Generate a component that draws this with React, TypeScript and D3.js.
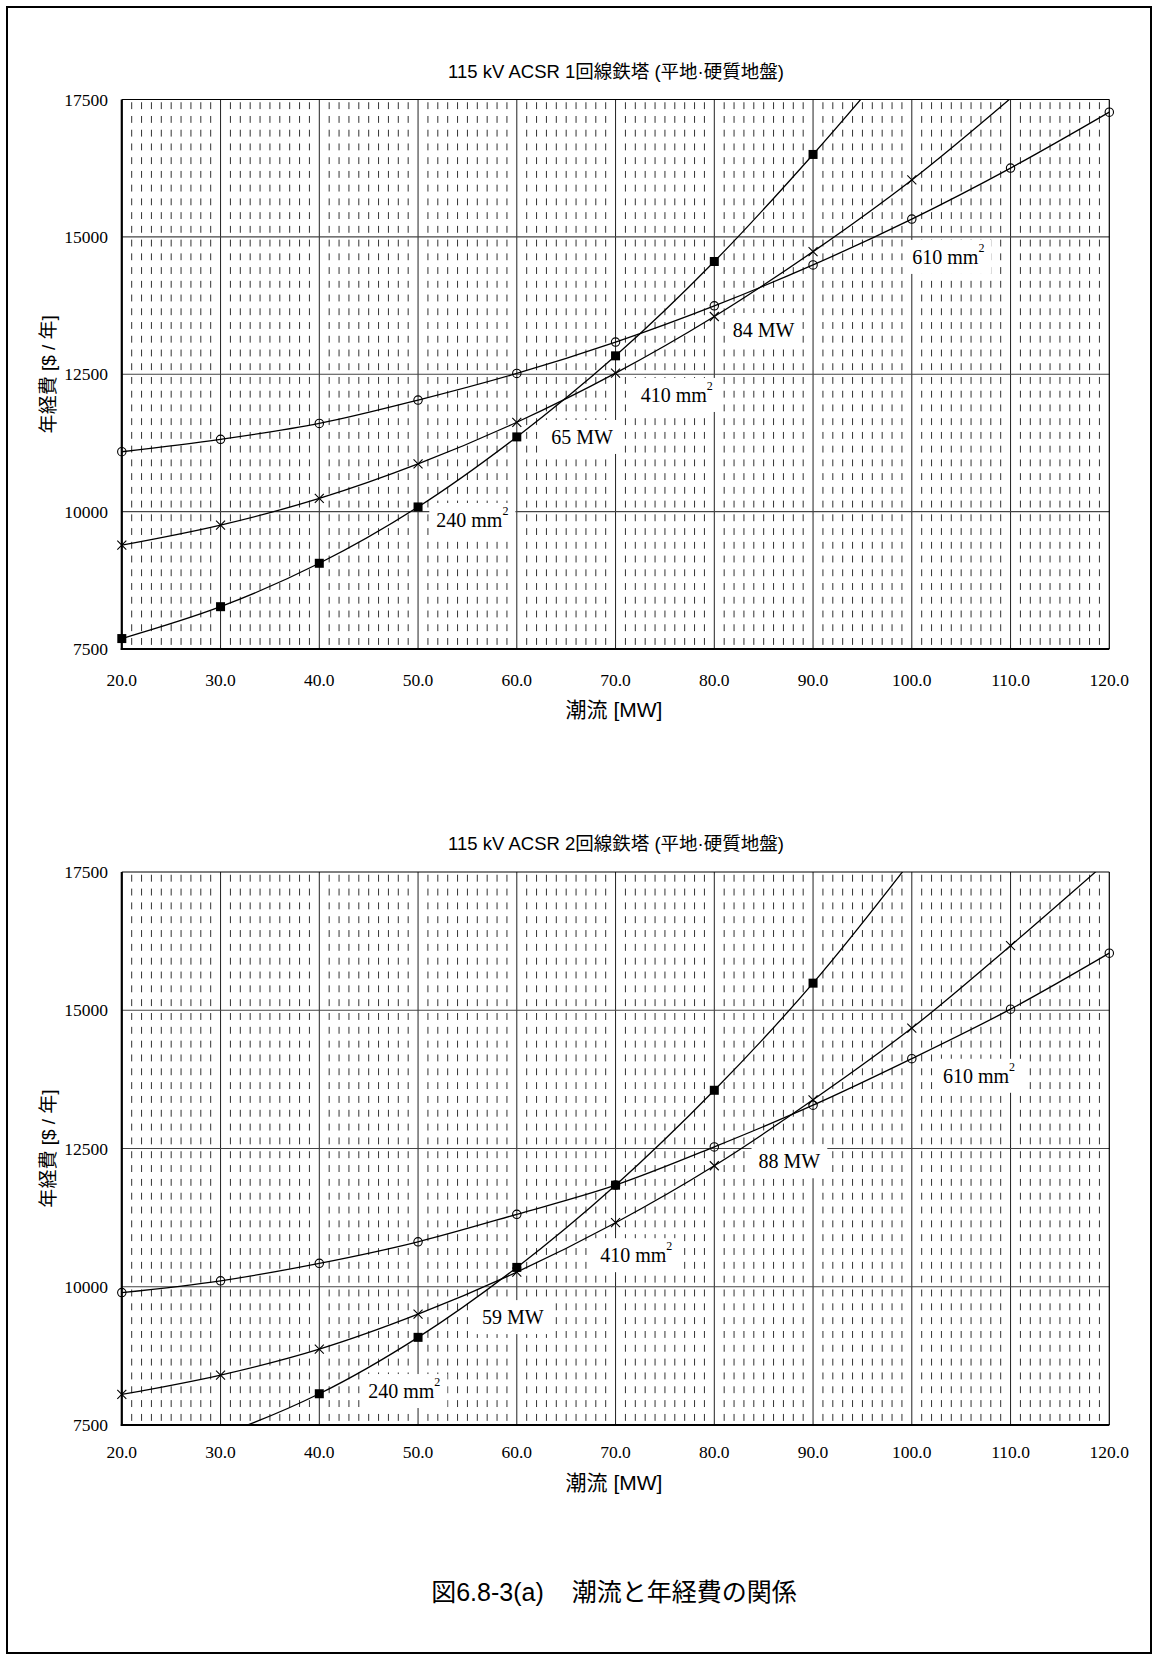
import React, { useEffect, useRef } from 'react';
import * as d3 from 'd3';

// x categories (MW) and y tick values
const flows = [20, 30, 40, 50, 60, 70, 80, 90, 100, 110, 120];
const costTicks = [7500, 10000, 12500, 15000, 17500];

// 1回線鉄塔
const single240 = [7690, 8270, 9060, 10085, 11360, 12835, 14552, 16500, 18600, null, null];
const single410 = [9390, 9755, 10240, 10868, 11626, 12520, 13551, 14732, 16036, 17520, 19100];
const single610 = [11090, 11315, 11605, 12030, 12515, 13085, 13745, 14490, 15324, 16252, 17270];

// 2回線鉄塔
const double240 = [6800, 7320, 8065, 9085, 10350, 11837, 13553, 15490, 17720, null, null];
const double410 = [8052, 8403, 8873, 9505, 10265, 11158, 12188, 13380, 14677, 16168, 17720];
const double610 = [9894, 10108, 10423, 10813, 11310, 11838, 12529, 13283, 14125, 15020, 16032];

// annotation anchors (MW, cost)
const singleNotes = [
  { text: '610 mm', sup: '2', mw: 103.7, cost: 14635 },
  { text: '84 MW', sup: '', mw: 85.0, cost: 13306 },
  { text: '410 mm', sup: '2', mw: 76.2, cost: 12123 },
  { text: '65 MW', sup: '', mw: 66.6, cost: 11359 },
  { text: '240 mm', sup: '2', mw: 55.5, cost: 9848 },
];
const doubleNotes = [
  { text: '610 mm', sup: '2', mw: 106.8, cost: 13815 },
  { text: '88 MW', sup: '', mw: 87.6, cost: 12269 },
  { text: '410 mm', sup: '2', mw: 72.1, cost: 10571 },
  { text: '59 MW', sup: '', mw: 59.6, cost: 9451 },
  { text: '240 mm', sup: '2', mw: 48.6, cost: 8114 },
];

const SANS = '"Liberation Sans", Arial, "Noto Sans CJK JP", sans-serif';
const SERIF = '"Liberation Serif", "Times New Roman", serif';

const panels = [
  {
    id: 'p1',
    title: '115 kV ACSR 1回線鉄塔 (平地·硬質地盤)',
    top: 99.5, bottom: 649, titleY: 71, tickY: 680, labelY: 709,
    s240: single240, s410: single410, s610: single610, notes: singleNotes,
  },
  {
    id: 'p2',
    title: '115 kV ACSR 2回線鉄塔 (平地·硬質地盤)',
    top: 872, bottom: 1425, titleY: 843, tickY: 1452, labelY: 1482,
    s240: double240, s410: double410, s610: double610, notes: doubleNotes,
  },
];

const App = () => {
  const svgRef = useRef<SVGSVGElement>(null);

  useEffect(() => {
    const svg = d3.select(svgRef.current);
    svg.selectAll('*').remove();

    svg.append('rect')
      .attr('x', 7).attr('y', 7).attr('width', 1144).attr('height', 1646)
      .attr('fill', 'white').attr('stroke', '#000').attr('stroke-width', 2);

    const left = 121.8;
    const right = 1109.3;

    panels.forEach(p => {
      const x = d3.scaleLinear().domain([20, 120]).range([left, right]);
      const y = d3.scaleLinear().domain([7500, 17500]).range([p.bottom, p.top]);
      const g = svg.append('g');

      g.append('defs').append('clipPath').attr('id', `clip-${p.id}`)
        .append('rect')
        .attr('x', left).attr('y', p.top)
        .attr('width', right - left).attr('height', p.bottom - p.top);

      // minor dashed verticals
      const period = (p.bottom - p.top) / 40;
      const minors = d3.range(21, 120).filter(v => v % 10 !== 0);
      g.append('g').selectAll('line').data(minors).enter().append('line')
        .attr('x1', d => x(d)).attr('x2', d => x(d))
        .attr('y1', p.top).attr('y2', p.bottom)
        .attr('stroke', '#333').attr('stroke-width', 1)
        .attr('stroke-dasharray', `${period * 0.5},${period * 0.5}`)
        .attr('stroke-dashoffset', -period * 0.2);

      // major grid
      g.append('g').selectAll('line').data(flows.slice(1, -1)).enter().append('line')
        .attr('x1', d => x(d)).attr('x2', d => x(d))
        .attr('y1', p.top).attr('y2', p.bottom)
        .attr('stroke', '#222').attr('stroke-width', 1);
      g.append('g').selectAll('line').data(costTicks.slice(1, -1)).enter().append('line')
        .attr('x1', left).attr('x2', right)
        .attr('y1', d => y(d)).attr('y2', d => y(d))
        .attr('stroke', '#444').attr('stroke-width', 1.2);

      // frame
      g.append('line').attr('x1', left).attr('x2', right).attr('y1', p.top).attr('y2', p.top)
        .attr('stroke', '#000').attr('stroke-width', 1);
      g.append('line').attr('x1', right).attr('x2', right).attr('y1', p.top).attr('y2', p.bottom)
        .attr('stroke', '#000').attr('stroke-width', 1.2);
      g.append('line').attr('x1', left).attr('x2', left).attr('y1', p.top).attr('y2', p.bottom + 1)
        .attr('stroke', '#000').attr('stroke-width', 2.2);
      g.append('line').attr('x1', left - 1).attr('x2', right).attr('y1', p.bottom).attr('y2', p.bottom)
        .attr('stroke', '#000').attr('stroke-width', 2.2);

      // annotations with white boxes
      const noteG = g.append('g');
      p.notes.forEach(n => {
        const t = noteG.append('text')
          .attr('x', x(n.mw)).attr('y', y(n.cost))
          .attr('text-anchor', 'middle').attr('dominant-baseline', 'central')
          .attr('font-family', SERIF).attr('font-size', 20).attr('fill', '#000');
        t.append('tspan').text(n.text);
        if (n.sup) t.append('tspan').attr('font-size', 12).attr('dy', -9).text(n.sup);
        const bb = (t.node() as SVGTextElement).getBBox();
        noteG.insert('rect', () => t.node())
          .attr('x', bb.x - 7).attr('y', y(n.cost) - 17)
          .attr('width', bb.width + 14).attr('height', 34)
          .attr('fill', 'white');
      });

      // series
      const series = [
        { vals: p.s610, mark: 'circle' },
        { vals: p.s410, mark: 'cross' },
        { vals: p.s240, mark: 'square' },
      ];
      const line = d3.line<number | null>()
        .defined(d => d !== null)
        .x((_, i) => x(flows[i]))
        .y(d => y(d as number))
        .curve(d3.curveCatmullRom.alpha(0.5));

      series.forEach(s => {
        g.append('path').datum(s.vals)
          .attr('clip-path', `url(#clip-${p.id})`)
          .attr('fill', 'none').attr('stroke', '#000').attr('stroke-width', 1.3)
          .attr('d', line);
        const pts = s.vals
          .map((v, i) => ({ v, f: flows[i] }))
          .filter(d => d.v !== null && d.v >= 7500 && d.v <= 17500);
        const mg = g.append('g');
        pts.forEach(d => {
          const cx = x(d.f), cy = y(d.v as number);
          if (s.mark === 'square') {
            mg.append('rect').attr('x', cx - 4.5).attr('y', cy - 4.5)
              .attr('width', 9).attr('height', 9).attr('fill', '#000');
          } else if (s.mark === 'circle') {
            mg.append('circle').attr('cx', cx).attr('cy', cy).attr('r', 4.2)
              .attr('fill', 'none').attr('stroke', '#000').attr('stroke-width', 1.1);
          } else {
            mg.append('path')
              .attr('d', `M${cx - 4.5},${cy - 4.5}L${cx + 4.5},${cy + 4.5}M${cx - 4.5},${cy + 4.5}L${cx + 4.5},${cy - 4.5}`)
              .attr('stroke', '#000').attr('stroke-width', 1.1);
          }
        });
      });

      // tick labels
      g.append('g').selectAll('text').data(costTicks).enter().append('text')
        .attr('x', 108).attr('y', d => y(d))
        .attr('text-anchor', 'end').attr('dominant-baseline', 'central')
        .attr('font-family', SERIF).attr('font-size', 17.5)
        .text(d => String(d));
      g.append('g').selectAll('text').data(flows).enter().append('text')
        .attr('x', d => x(d)).attr('y', p.tickY)
        .attr('text-anchor', 'middle').attr('dominant-baseline', 'central')
        .attr('font-family', SERIF).attr('font-size', 17.5)
        .text(d => d3.format('.1f')(d));

      // titles
      g.append('text').attr('x', 616).attr('y', p.titleY)
        .attr('text-anchor', 'middle').attr('dominant-baseline', 'central')
        .attr('font-family', SANS).attr('font-size', 18.5)
        .text(p.title);
      g.append('text').attr('x', 614).attr('y', p.labelY)
        .attr('text-anchor', 'middle').attr('dominant-baseline', 'central')
        .attr('font-family', SANS).attr('font-size', 21)
        .text('潮流 [MW]');
      g.append('text')
        .attr('transform', `translate(48,${(p.top + p.bottom) / 2}) rotate(-90)`)
        .attr('text-anchor', 'middle').attr('dominant-baseline', 'central')
        .attr('font-family', SANS).attr('font-size', 19)
        .text('年経費 [$ / 年]');
    });

    const cap = svg.append('text').attr('x', 614).attr('y', 1592)
      .attr('text-anchor', 'middle').attr('dominant-baseline', 'central')
      .attr('font-family', SANS).attr('font-size', 25);
    cap.append('tspan').text('図6.8-3(a)');
    cap.append('tspan').attr('dx', 28).text('潮流と年経費の関係');
  }, []);

  return (
    <svg ref={svgRef} width={1158} height={1659}
      style={{ position: 'absolute', left: 0, top: 0, background: 'white' }} />
  );
};

export default App;
